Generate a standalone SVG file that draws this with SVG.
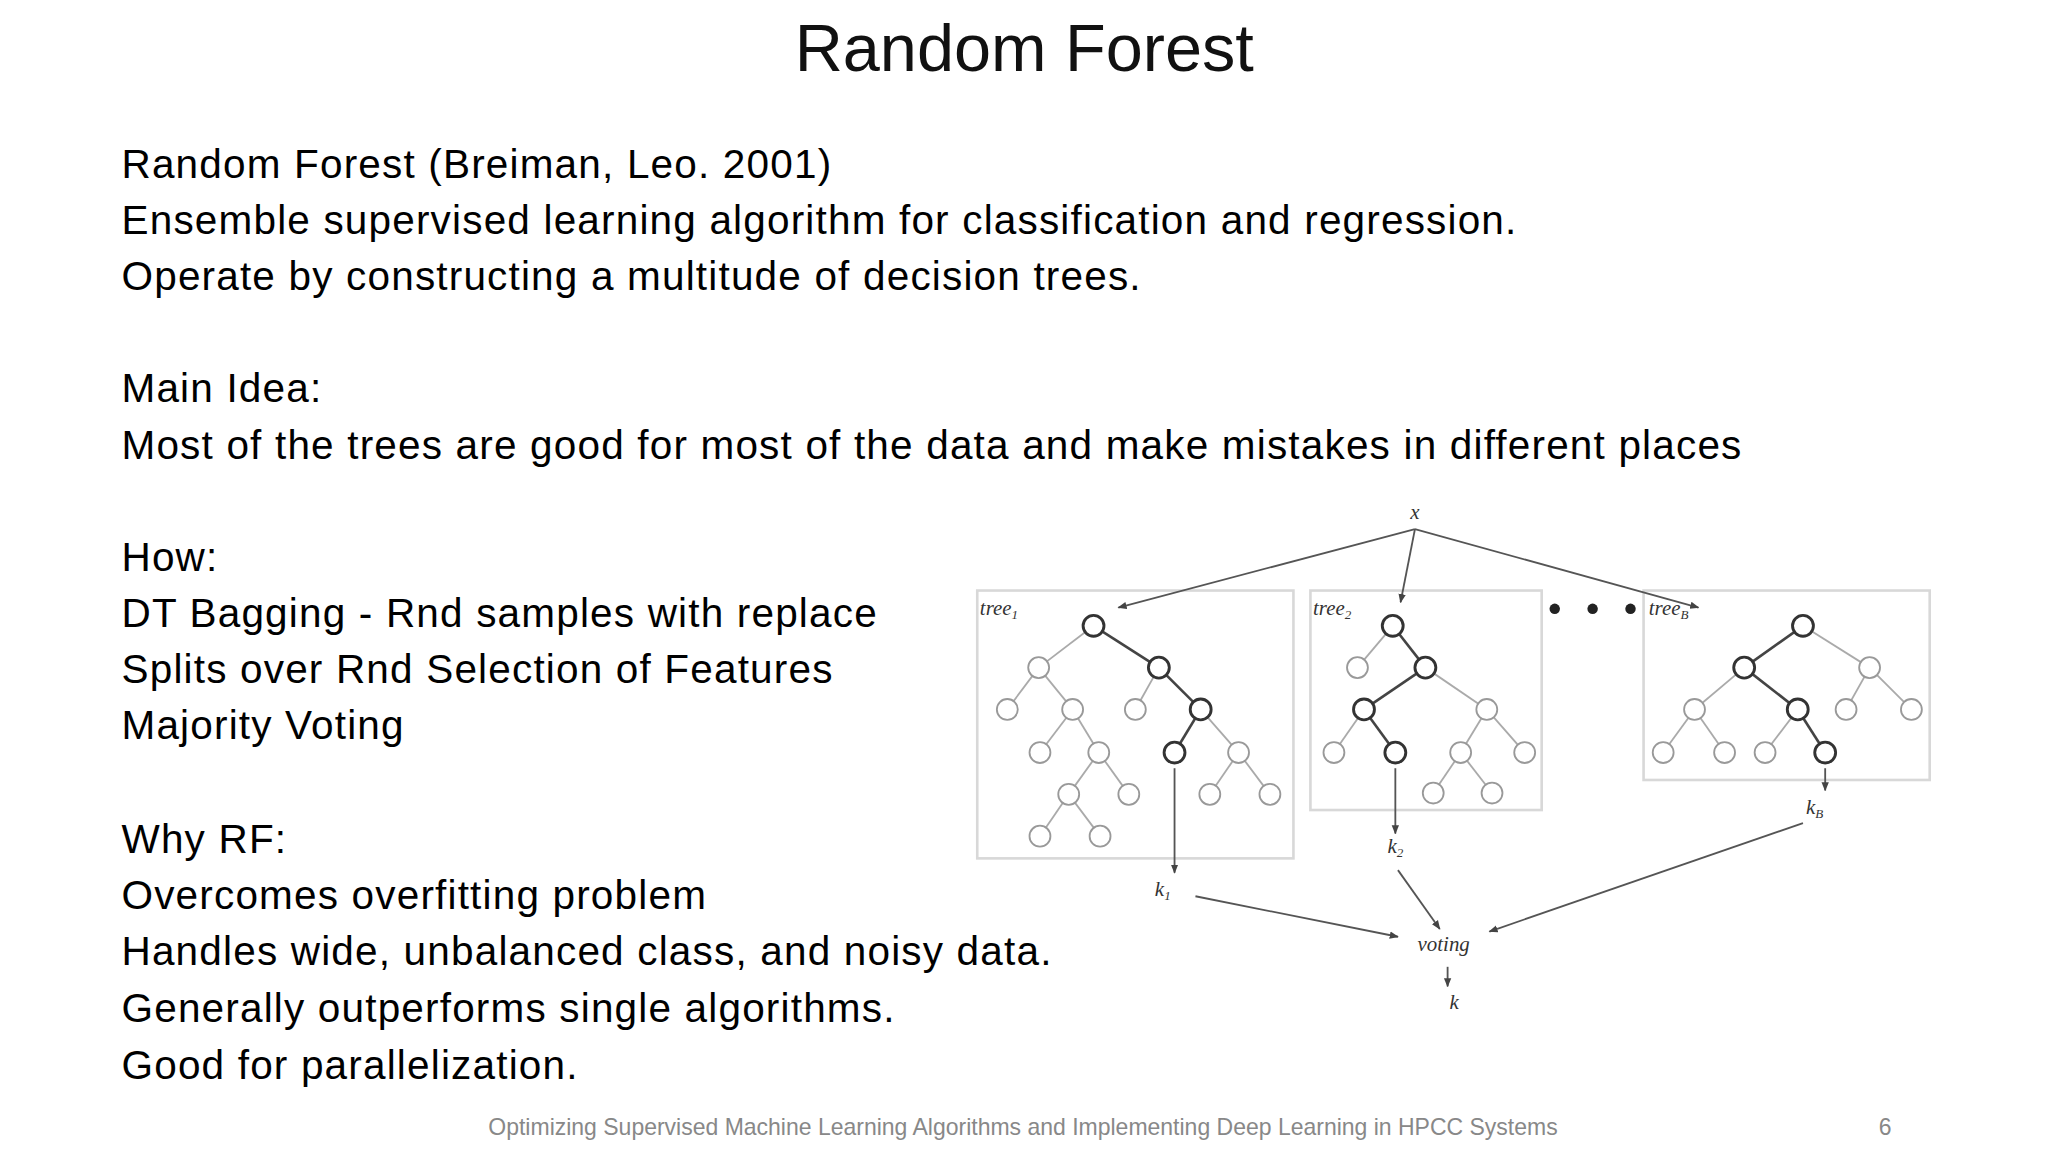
<svg xmlns="http://www.w3.org/2000/svg" width="2048" height="1152" viewBox="0 0 2048 1152">
<defs>
<marker id="ah" viewBox="0 0 10 10" refX="9" refY="5" markerWidth="7" markerHeight="7" orient="auto-start-reverse" markerUnits="userSpaceOnUse"><path d="M0,1 L10,5 L0,9 z" fill="#444"/></marker>
<style>
.t{font-family:"Liberation Sans",Arial,sans-serif;font-size:31px;letter-spacing:0.9px;fill:#000}
.ti{font-family:"Liberation Sans",Arial,sans-serif;font-size:51px;fill:#111}
.f{font-family:"Liberation Sans",Arial,sans-serif;font-size:17.6px;fill:#888}
.m{font-family:"Liberation Serif","Times New Roman",serif;font-style:italic;font-size:16px;fill:#333}
.box{fill:none;stroke:#d8d8d8;stroke-width:2}
.l{stroke:#aaa;stroke-width:1.4}
.d{stroke:#444;stroke-width:2}
.n{fill:#fff;stroke:#999;stroke-width:1.4}
.nd{fill:#fff;stroke:#333;stroke-width:2.2}
.a{stroke:#555;stroke-width:1.4;fill:none;marker-end:url(#ah)}
</style>
</defs>
<rect width="2048" height="1152" fill="#fff"/>
<g transform="scale(1.3065)">
<g id="title"><text class="ti" x="784" y="54" text-anchor="middle">Random Forest</text></g>
<g id="body">
<text class="t" x="93" y="136">Random Forest (Breiman, Leo. 2001)</text>
<text class="t" x="93" y="179">Ensemble supervised learning algorithm for classification and regression.</text>
<text class="t" x="93" y="222">Operate by constructing a multitude of decision trees.</text>
<text class="t" x="93" y="308">Main Idea:</text>
<text class="t" x="93" y="351">Most of the trees are good for most of the data and make mistakes in different places</text>
<text class="t" x="93" y="437">How:</text>
<text class="t" x="93" y="480">DT Bagging - Rnd samples with replace</text>
<text class="t" x="93" y="523">Splits over Rnd Selection of Features</text>
<text class="t" x="93" y="566">Majority Voting</text>
<text class="t" x="93" y="653">Why RF:</text>
<text class="t" x="93" y="696">Overcomes overfitting problem</text>
<text class="t" x="93" y="739">Handles wide, unbalanced class, and noisy data.</text>
<text class="t" x="93" y="782">Generally outperforms single algorithms.</text>
<text class="t" x="93" y="826">Good for parallelization.</text>
</g>
<g id="footer">
<text class="f" x="783" y="869" text-anchor="middle">Optimizing Supervised Machine Learning Algorithms and Implementing Deep Learning in HPCC Systems</text>
<text class="f" x="1443" y="869" text-anchor="middle">6</text>
</g>
<g id="tree1">
<rect class="box" x="748" y="452" width="242" height="205"/>
<text class="m" x="750" y="471">tree<tspan font-size="10" dy="3">1</tspan></text>
<g class="l"><line x1="837" y1="479" x2="795" y2="511"/><line x1="795" y1="511" x2="771" y2="543"/><line x1="795" y1="511" x2="821" y2="543"/><line x1="887" y1="511" x2="869" y2="543"/><line x1="821" y1="543" x2="796" y2="576"/><line x1="821" y1="543" x2="841" y2="576"/><line x1="919" y1="543" x2="948" y2="576"/><line x1="841" y1="576" x2="818" y2="608"/><line x1="841" y1="576" x2="864" y2="608"/><line x1="948" y1="576" x2="926" y2="608"/><line x1="948" y1="576" x2="972" y2="608"/><line x1="818" y1="608" x2="796" y2="640"/><line x1="818" y1="608" x2="842" y2="640"/></g>
<g class="d"><line x1="837" y1="479" x2="887" y2="511"/><line x1="887" y1="511" x2="919" y2="543"/><line x1="919" y1="543" x2="899" y2="576"/></g>
<g class="n"><circle cx="795" cy="511" r="8"/><circle cx="771" cy="543" r="8"/><circle cx="821" cy="543" r="8"/><circle cx="869" cy="543" r="8"/><circle cx="796" cy="576" r="8"/><circle cx="841" cy="576" r="8"/><circle cx="948" cy="576" r="8"/><circle cx="818" cy="608" r="8"/><circle cx="864" cy="608" r="8"/><circle cx="926" cy="608" r="8"/><circle cx="972" cy="608" r="8"/><circle cx="796" cy="640" r="8"/><circle cx="842" cy="640" r="8"/></g>
<g class="nd"><circle cx="837" cy="479" r="8"/><circle cx="887" cy="511" r="8"/><circle cx="919" cy="543" r="8"/><circle cx="899" cy="576" r="8"/></g>
</g>
<g id="tree2">
<rect class="box" x="1003" y="452" width="177" height="168"/>
<text class="m" x="1005" y="471">tree<tspan font-size="10" dy="3">2</tspan></text>
<g class="l"><line x1="1066" y1="479" x2="1039" y2="511"/><line x1="1091" y1="511" x2="1138" y2="543"/><line x1="1044" y1="543" x2="1021" y2="576"/><line x1="1138" y1="543" x2="1118" y2="576"/><line x1="1138" y1="543" x2="1167" y2="576"/><line x1="1118" y1="576" x2="1097" y2="607"/><line x1="1118" y1="576" x2="1142" y2="607"/></g>
<g class="d"><line x1="1066" y1="479" x2="1091" y2="511"/><line x1="1091" y1="511" x2="1044" y2="543"/><line x1="1044" y1="543" x2="1068" y2="576"/></g>
<g class="n"><circle cx="1039" cy="511" r="8"/><circle cx="1138" cy="543" r="8"/><circle cx="1021" cy="576" r="8"/><circle cx="1118" cy="576" r="8"/><circle cx="1167" cy="576" r="8"/><circle cx="1097" cy="607" r="8"/><circle cx="1142" cy="607" r="8"/></g>
<g class="nd"><circle cx="1066" cy="479" r="8"/><circle cx="1091" cy="511" r="8"/><circle cx="1044" cy="543" r="8"/><circle cx="1068" cy="576" r="8"/></g>
</g>
<g id="dots" fill="#222"><circle cx="1190" cy="466" r="4"/><circle cx="1219" cy="466" r="4"/><circle cx="1248" cy="466" r="4"/></g>
<g id="treeB">
<rect class="box" x="1258" y="452" width="219" height="145"/>
<text class="m" x="1262" y="471">tree<tspan font-size="10" dy="3">B</tspan></text>
<g class="l"><line x1="1380" y1="479" x2="1431" y2="511"/><line x1="1335" y1="511" x2="1297" y2="543"/><line x1="1431" y1="511" x2="1413" y2="543"/><line x1="1431" y1="511" x2="1463" y2="543"/><line x1="1297" y1="543" x2="1273" y2="576"/><line x1="1297" y1="543" x2="1320" y2="576"/><line x1="1376" y1="543" x2="1351" y2="576"/></g>
<g class="d"><line x1="1380" y1="479" x2="1335" y2="511"/><line x1="1335" y1="511" x2="1376" y2="543"/><line x1="1376" y1="543" x2="1397" y2="576"/></g>
<g class="n"><circle cx="1431" cy="511" r="8"/><circle cx="1297" cy="543" r="8"/><circle cx="1413" cy="543" r="8"/><circle cx="1463" cy="543" r="8"/><circle cx="1273" cy="576" r="8"/><circle cx="1320" cy="576" r="8"/><circle cx="1351" cy="576" r="8"/></g>
<g class="nd"><circle cx="1380" cy="479" r="8"/><circle cx="1335" cy="511" r="8"/><circle cx="1376" cy="543" r="8"/><circle cx="1397" cy="576" r="8"/></g>
</g>
<g id="labels">
<text class="m" x="1083" y="397" text-anchor="middle">x</text>
<text class="m" x="890" y="686" text-anchor="middle">k<tspan font-size="10" dy="3">1</tspan></text>
<text class="m" x="1068" y="653" text-anchor="middle">k<tspan font-size="10" dy="3">2</tspan></text>
<text class="m" x="1389" y="623" text-anchor="middle">k<tspan font-size="10" dy="3">B</tspan></text>
<text class="m" x="1105" y="728" text-anchor="middle">voting</text>
<text class="m" x="1113" y="772" text-anchor="middle">k</text>
</g>
<g id="connectors">
<line class="a" x1="1083" y1="405" x2="856" y2="465"/>
<line class="a" x1="1083" y1="405" x2="1072" y2="461"/>
<line class="a" x1="1083" y1="405" x2="1300" y2="465"/>
<line class="a" x1="899" y1="588" x2="899" y2="668"/>
<line class="a" x1="1068" y1="588" x2="1068" y2="638"/>
<line class="a" x1="1397" y1="588" x2="1397" y2="605"/>
<line class="a" x1="915" y1="686" x2="1070" y2="717"/>
<line class="a" x1="1070" y1="666" x2="1102" y2="711"/>
<line class="a" x1="1380" y1="630" x2="1140" y2="713"/>
<line class="a" x1="1108" y1="740" x2="1108" y2="755"/>
</g>
</g>
</svg>
